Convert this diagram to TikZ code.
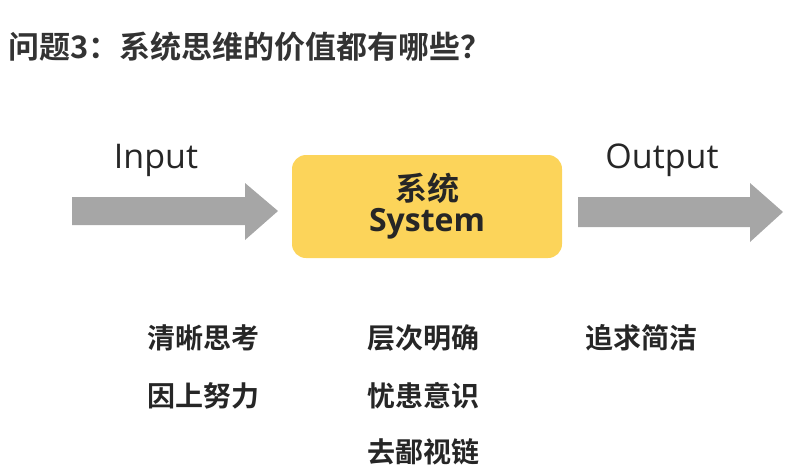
\documentclass[tikz,border=0pt]{standalone}
\usepackage{fontspec}
\setmainfont{Open Sans}
\newfontfamily\cjk{Noto Sans CJK SC}[BoldFont={* Bold}]
\begin{document}
\begin{tikzpicture}[x=1pt,y=-1pt,
  arr/.style={fill=black!35,draw=none},
  cn/.style={font=\cjk\bfseries\fontsize{28}{32}\selectfont,text=black!85},
  en/.style={font=\fontsize{34}{38}\selectfont,text=black!85}]
\useasboundingbox (0,0) rectangle (797,475);
\node[font=\cjk\bfseries\fontsize{31}{34}\selectfont,text=black!80,anchor=west,inner sep=0] (title) at (8,47) {问题3：系统思维的价值都有哪些？};
\node[en] (in) at (156,160) {Input};
\node[en] (out) at (662,160) {Output};
\fill[arr] (72,197) -- (245,197) -- (245,183) -- (278,211) -- (245,240) -- (245,225) -- (72,225) -- cycle;
\fill[arr] (578,197) -- (750,197) -- (750,183) -- (783,212) -- (750,242) -- (750,227) -- (578,227) -- cycle;
\node[fill={rgb,255:red,252;green,212;blue,90},rounded corners=14,minimum width=270,minimum height=103] (sys) at (427,206.5) {};
\node[cn,font=\cjk\bfseries\fontsize{32}{36}\selectfont] (s1) at (427,188) {系统};
\node[en,font=\bfseries\fontsize{32}{36}\selectfont] (s2) at (427,224) {System};
\node[cn] (a1) at (203,338) {清晰思考};
\node[cn] (a2) at (203,396) {因上努力};
\node[cn] (b1) at (423,338) {层次明确};
\node[cn] (b2) at (423,396) {忧患意识};
\node[cn] (b3) at (423,452) {去鄙视链};
\node[cn] (c1) at (641,338) {追求简洁};
\end{tikzpicture}
\end{document}
